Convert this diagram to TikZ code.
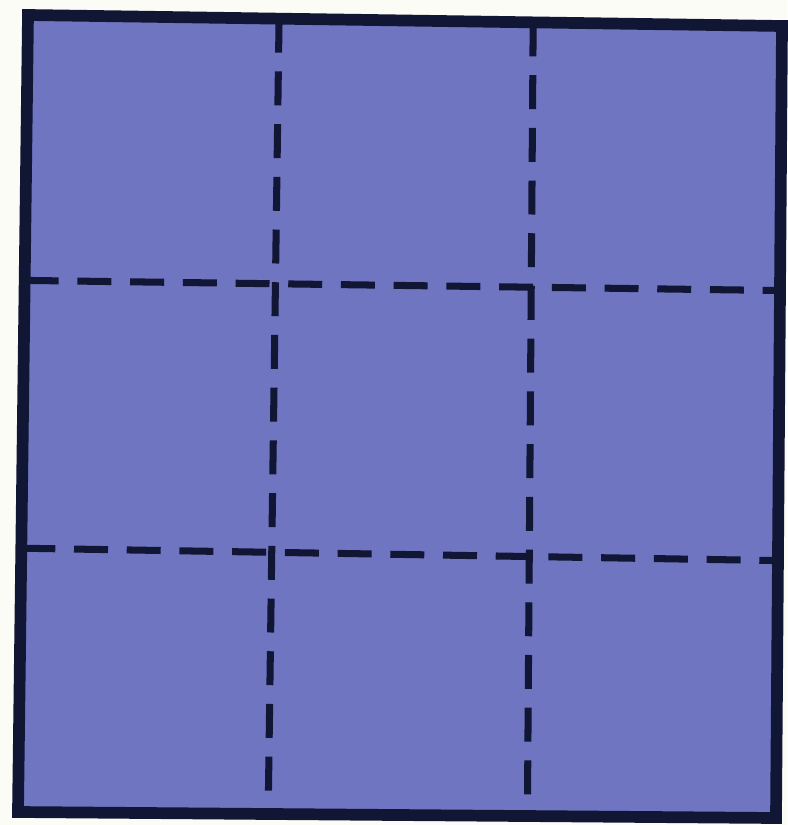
\documentclass[tikz,border=0pt]{standalone}
\usepackage{xcolor}
\usetikzlibrary{calc}
\definecolor{myfill}{RGB}{112,117,194}
\definecolor{myedge}{RGB}{16,22,52}
\definecolor{mypaper}{RGB}{252,252,246}

\begin{document}
\begin{tikzpicture}[x=0.3mm,y=-0.3mm]
\tikzset{
cutline/.style={line width=6pt,color=myedge,dash pattern=on 29pt off 16pt},
}
\fill[mypaper] (0,0) rectangle (787,825);
\useasboundingbox (0,0) rectangle (787,825);

% corners of the sheet
\coordinate (tl) at (28,15);
\coordinate (tr) at (782,26);
\coordinate (br) at (776,818);
\coordinate (bl) at (18,812);

\fill[myfill] (tl) -- (tr) -- (br) -- (bl) -- cycle;

% fold lines
\draw[cutline] ($(tl)!0.333!(tr)$) -- ($(bl)!0.33!(br)$);
\draw[cutline] ($(tl)!0.67!(tr)$) -- ($(bl)!0.672!(br)$);
\draw[cutline] ($(tl)!0.333!(bl)$) -- ($(tr)!0.334!(br)$);
\draw[cutline] ($(tl)!0.669!(bl)$) -- ($(tr)!0.675!(br)$);

\draw[line width=10pt,color=myedge,line join=miter] (tl) -- (tr) -- (br) -- (bl) -- cycle;
\end{tikzpicture}
\end{document}
